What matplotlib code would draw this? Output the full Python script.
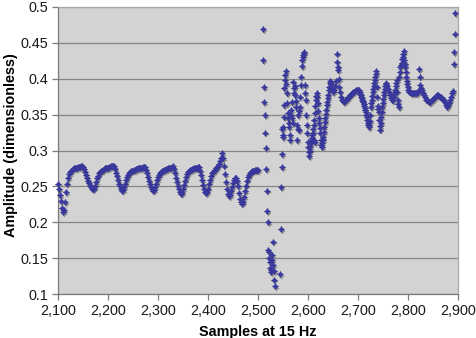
import numpy as np
import matplotlib
matplotlib.use("Agg")
import matplotlib.pyplot as plt
from matplotlib import transforms

# Smooth part of the record: one value every 2 samples from 2100 to 2500
smooth_start = 2100
smooth_step = 2
smooth_values = [
    0.254, 0.246, 0.238, 0.229, 0.220, 0.214, 0.217, 0.228, 0.242, 0.254, 0.262, 0.267, 0.270, 0.272, 0.273, 0.274,
    0.275, 0.275, 0.276, 0.276, 0.277, 0.277, 0.277, 0.278, 0.278, 0.277,
    0.274, 0.270, 0.266, 0.262, 0.258, 0.255, 0.252, 0.249, 0.247, 0.246, 0.247,
    0.251, 0.256, 0.261, 0.265, 0.268, 0.270, 0.271, 0.272, 0.273,
    0.274, 0.275, 0.275, 0.276, 0.276, 0.277, 0.277, 0.278, 0.278, 0.279, 0.278,
    0.274, 0.269, 0.264, 0.259, 0.254, 0.250, 0.247, 0.244, 0.245,
    0.249, 0.254, 0.259, 0.263, 0.266, 0.268, 0.270, 0.271, 0.272, 0.272,
    0.273, 0.273, 0.274, 0.274, 0.275, 0.275, 0.276, 0.276, 0.276, 0.277, 0.277, 0.277,
    0.273, 0.268, 0.263, 0.258, 0.253, 0.249, 0.246, 0.244, 0.245,
    0.249, 0.254, 0.259, 0.263, 0.266, 0.268, 0.270, 0.271, 0.272, 0.273,
    0.273, 0.274, 0.274, 0.275, 0.275, 0.276, 0.276, 0.277, 0.278,
    0.274, 0.268, 0.262, 0.256, 0.251, 0.246, 0.242, 0.240, 0.241,
    0.246, 0.252, 0.258, 0.263, 0.267, 0.270, 0.272, 0.273,
    0.273, 0.274, 0.274, 0.275, 0.275, 0.276, 0.276, 0.277, 0.277,
    0.272, 0.266, 0.259, 0.252, 0.246, 0.242, 0.241, 0.242,
    0.247, 0.253, 0.259, 0.264, 0.268, 0.270, 0.272, 0.273,
    0.275, 0.277, 0.279, 0.281, 0.285, 0.290, 0.296,
    0.289, 0.279, 0.267, 0.256, 0.246, 0.240, 0.237, 0.238,
    0.243, 0.249, 0.255, 0.259, 0.261, 0.261,
    0.257, 0.250, 0.241, 0.233, 0.228, 0.226, 0.228,
    0.235, 0.243, 0.251, 0.258, 0.263, 0.266, 0.268, 0.270, 0.271, 0.272, 0.272, 0.273, 0.273, 0.273, 0.273,
]

# Irregular part of the record: explicit sample / amplitude pairs
burst_samples = [
    2509, 2510, 2511, 2512, 2513, 2514, 2515, 2516, 2517, 2518, 2519, 2520,
    2521, 2522, 2523, 2524, 2525, 2526, 2527, 2528, 2529, 2530, 2531, 2532, 2533,
    2544, 2545, 2546, 2547, 2548, 2549, 2550, 2551, 2552, 2553, 2554, 2555,
    2548, 2549, 2551,
    2556, 2557, 2558, 2559, 2560, 2561, 2562, 2563, 2564,
    2565, 2566, 2567, 2568, 2569, 2570, 2571, 2572, 2573, 2574, 2575, 2576,
    2577, 2578, 2579, 2580, 2581, 2582, 2583, 2584, 2585, 2586, 2587, 2588,
    2589, 2590, 2591, 2592,
    2593, 2594, 2595, 2596, 2597, 2598, 2599, 2600, 2601, 2602,
    2603, 2604, 2605, 2606, 2607, 2608, 2609, 2610, 2611, 2612, 2613, 2614,
    2615, 2616, 2617, 2618, 2619, 2620, 2621, 2622, 2623, 2624, 2625, 2626, 2627,
    2611, 2613,
    2628, 2629, 2630, 2631, 2632, 2633, 2634, 2635, 2636, 2637, 2638, 2639,
    2640, 2641, 2642, 2643, 2644,
]
burst_values = [
    0.469, 0.426, 0.388, 0.367, 0.349, 0.325, 0.303, 0.274, 0.244, 0.216, 0.200, 0.161,
    0.150, 0.158, 0.145, 0.136, 0.133, 0.130, 0.154, 0.147, 0.173, 0.140, 0.132, 0.120, 0.111,
    0.128, 0.190, 0.249, 0.277, 0.295, 0.322, 0.333, 0.363, 0.387, 0.398, 0.405, 0.411,
    0.330, 0.319, 0.347,
    0.392, 0.380, 0.366, 0.352, 0.345, 0.339, 0.333, 0.322, 0.315,
    0.356, 0.350, 0.368, 0.345, 0.338, 0.396, 0.387, 0.380, 0.390, 0.377, 0.369, 0.360,
    0.315, 0.335, 0.349, 0.330, 0.328, 0.355, 0.361, 0.375, 0.391, 0.403, 0.418, 0.426,
    0.430, 0.433, 0.436, 0.437,
    0.391, 0.380, 0.370, 0.349, 0.335, 0.324, 0.312, 0.305, 0.298, 0.292,
    0.300, 0.305, 0.310, 0.314, 0.318, 0.322, 0.325, 0.330, 0.336, 0.343, 0.352, 0.362,
    0.370, 0.376, 0.380, 0.375, 0.366, 0.355, 0.345, 0.338, 0.332, 0.324, 0.315, 0.308, 0.305,
    0.315, 0.312,
    0.310, 0.314, 0.319, 0.326, 0.333, 0.340, 0.345, 0.351, 0.357, 0.363, 0.368, 0.373,
    0.378, 0.384, 0.389, 0.394, 0.397,
]

# Later part of the record
tail_samples = [
    2645, 2646, 2648, 2650, 2652, 2654, 2656, 2657, 2658, 2659, 2660, 2661, 2662, 2663,
    2665, 2667, 2669, 2671, 2673, 2675, 2677, 2679, 2681, 2683, 2685, 2687, 2689, 2691,
    2693, 2695, 2697, 2699, 2701, 2703, 2704, 2705, 2706, 2707, 2708, 2709, 2710, 2711,
    2712, 2713, 2714, 2715, 2716, 2717, 2718, 2719, 2720, 2721, 2722, 2723, 2724, 2725,
    2726, 2727, 2728, 2729, 2730, 2731, 2732, 2733, 2734, 2735, 2736, 2737, 2738, 2739,
    2740, 2741, 2742, 2743, 2744, 2745, 2746, 2747, 2748, 2749, 2750, 2751, 2752, 2753,
    2754, 2755, 2756, 2757, 2759, 2761, 2763, 2765, 2767, 2769, 2771, 2772, 2773, 2774,
    2775, 2776, 2777, 2778, 2779, 2780, 2781, 2782, 2783, 2784, 2785, 2787, 2788, 2789,
    2790, 2791, 2792, 2793, 2794, 2795, 2796, 2797, 2798, 2799, 2800, 2801, 2803, 2805,
    2807, 2809, 2811, 2813, 2815, 2817, 2819, 2821, 2822, 2823, 2824, 2825, 2827, 2829,
    2831, 2833, 2835, 2837, 2839, 2841, 2843, 2845, 2847, 2849, 2851, 2853, 2855, 2857,
    2859, 2861, 2863, 2865, 2867, 2869, 2871, 2873, 2875, 2877, 2879, 2881, 2883, 2885,
    2887, 2889, 2892, 2892, 2893, 2893,
]
tail_values = [
    0.395, 0.392, 0.386, 0.381, 0.384, 0.390, 0.397, 0.435, 0.424, 0.417, 0.412, 0.400, 0.389, 0.382,
    0.375, 0.370, 0.369, 0.368, 0.369, 0.371, 0.372, 0.374, 0.375, 0.377, 0.378, 0.380, 0.381, 0.382,
    0.383, 0.384, 0.385, 0.385, 0.384, 0.381, 0.379, 0.377, 0.375, 0.373, 0.371, 0.369, 0.367, 0.365,
    0.362, 0.359, 0.356, 0.353, 0.350, 0.347, 0.342, 0.338, 0.335, 0.333, 0.336, 0.341, 0.350, 0.360,
    0.366, 0.371, 0.376, 0.381, 0.386, 0.390, 0.394, 0.398, 0.402, 0.406, 0.411, 0.389, 0.375, 0.362,
    0.358, 0.354, 0.343, 0.334, 0.329, 0.338, 0.346, 0.353, 0.360, 0.366, 0.372, 0.377, 0.381, 0.386,
    0.390, 0.392, 0.394, 0.390, 0.386, 0.382, 0.377, 0.373, 0.370, 0.370, 0.375, 0.379, 0.382, 0.385,
    0.390, 0.394, 0.398, 0.382, 0.370, 0.365, 0.361, 0.403, 0.410, 0.416, 0.419, 0.422, 0.427, 0.431,
    0.435, 0.438, 0.426, 0.421, 0.417, 0.410, 0.403, 0.397, 0.393, 0.389, 0.385, 0.382, 0.381, 0.380,
    0.380, 0.380, 0.380, 0.380, 0.380, 0.380, 0.381, 0.384, 0.414, 0.403, 0.391, 0.387, 0.384, 0.380,
    0.377, 0.374, 0.371, 0.370, 0.369, 0.368, 0.368, 0.369, 0.370, 0.372, 0.373, 0.375, 0.376, 0.377,
    0.377, 0.376, 0.375, 0.374, 0.373, 0.371, 0.370, 0.367, 0.364, 0.361, 0.363, 0.366, 0.370, 0.375,
    0.380, 0.383, 0.420, 0.437, 0.463, 0.491,
]

x_ticks = [2100, 2200, 2300, 2400, 2500, 2600, 2700, 2800, 2900]
x_tick_labels = ["2,100", "2,200", "2,300", "2,400", "2,500", "2,600", "2,700", "2,800", "2,900"]
y_ticks = [0.1, 0.15, 0.2, 0.25, 0.3, 0.35, 0.4, 0.45, 0.5]
y_tick_labels = ["0.1", "0.15", "0.2", "0.25", "0.3", "0.35", "0.4", "0.45", "0.5"]

smooth_samples = smooth_start + smooth_step * np.arange(len(smooth_values))
samples = np.concatenate([smooth_samples, burst_samples, tail_samples])
values = np.concatenate([smooth_values, burst_values, tail_values])

plt.rcParams["font.family"] = ["Liberation Sans", "DejaVu Sans"]

W, H = 477, 338
fig = plt.figure(figsize=(W / 100, H / 100), dpi=100)
ax = fig.add_axes([58 / W, (H - 294) / H, 400 / W, 287 / H])
ax.set_facecolor("#d3d3d3")

ax.set_xlim(2100, 2900)
ax.set_ylim(0.1, 0.5)
ax.set_xticks(x_ticks)
ax.set_xticklabels(x_tick_labels)
ax.set_yticks(y_ticks)
ax.set_yticklabels(y_tick_labels)

ax.grid(axis="y", color="#858585", linewidth=0.9)
ax.set_axisbelow(True)
for side in ("top", "right"):
    ax.spines[side].set_color("#a8a8a8")
    ax.spines[side].set_linewidth(0.9)
for side in ("left", "bottom"):
    ax.spines[side].set_color("#7a7a7a")
    ax.spines[side].set_linewidth(0.9)

ax.tick_params(axis="both", direction="out", length=4, width=0.9, color="#7a7a7a",
               labelsize=10.4, labelcolor="#1a1a1a", pad=3)

marker = (4, 1, 0)
# drop shadow under each point
shadow = transforms.offset_copy(ax.transData, fig=fig, x=1.2, y=-1.8, units="dots")
ax.scatter(samples, values, s=20, marker=marker, color="#8a8a8a", linewidths=0,
           transform=shadow, zorder=2, clip_on=False)
ax.scatter(samples, values, s=20, marker=marker, color="#37379c", linewidths=0.4,
           edgecolors="#37379c", zorder=3, clip_on=False)

ax.set_xlabel("Samples at 15 Hz", fontsize=10.4, fontweight="bold", labelpad=5)
ax.set_ylabel("Amplitude (dimensionless)", fontsize=10.4, fontweight="bold")
ax.yaxis.set_label_coords(-0.1, 0.52)

fig.savefig("out.png", dpi=100, facecolor="white")
